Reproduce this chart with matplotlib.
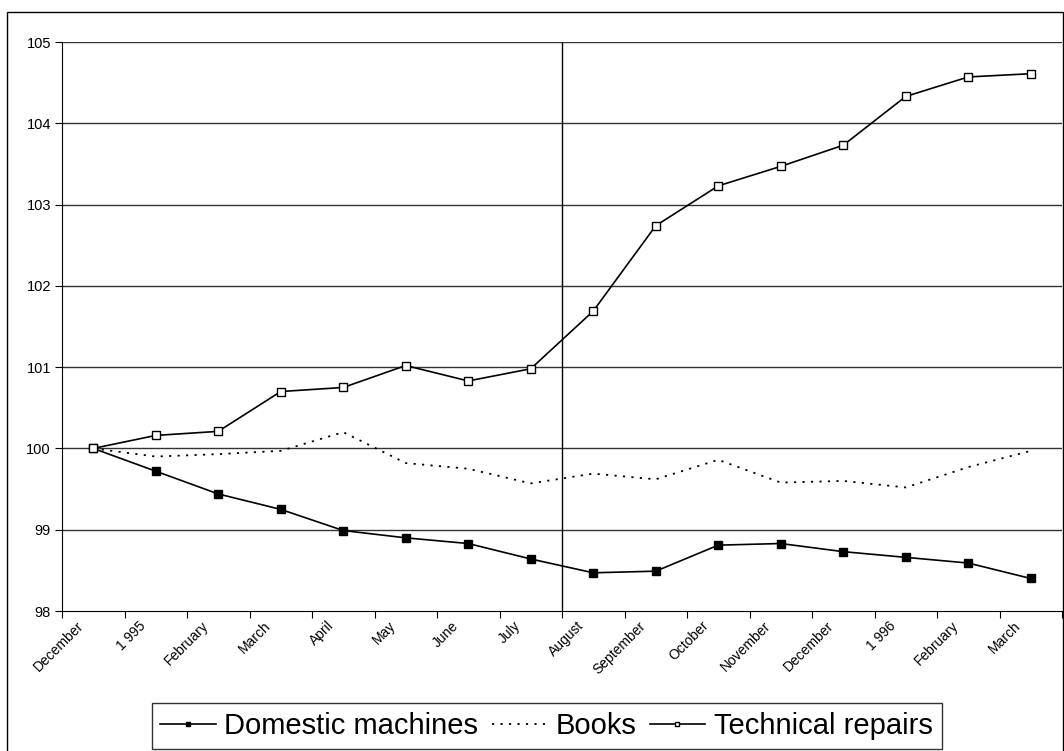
import matplotlib
matplotlib.use("Agg")
import matplotlib.pyplot as plt
from matplotlib.patches import Rectangle
from matplotlib.transforms import ScaledTranslation
import numpy as np

plt.rcParams['font.family'] = ['Liberation Sans', 'DejaVu Sans']

# categories (Dec 1994 .. Mar 1996)
months = ["December", "1 995", "February", "March", "April", "May", "June", "July",
          "August", "September", "October", "November", "December", "1 996",
          "February", "March"]

domestic = [100.0, 99.72, 99.44, 99.25, 98.99, 98.90, 98.83, 98.64,
            98.47, 98.49, 98.81, 98.83, 98.73, 98.66, 98.59, 98.40]
books = [100.0, 99.90, 99.93, 99.97, 100.20, 99.82, 99.75, 99.57,
         99.69, 99.62, 99.86, 99.58, 99.60, 99.52, 99.77, 99.97]
repairs = [100.0, 100.16, 100.21, 100.70, 100.75, 101.02, 100.83, 100.98,
           101.69, 102.74, 103.23, 103.47, 103.73, 104.33, 104.57, 104.61]

yticks = [98, 99, 100, 101, 102, 103, 104, 105]

fig = plt.figure(figsize=(10.64, 7.51), dpi=100)
ax = fig.add_axes([62/1064, 1-611/751, 1000/1064, 569/751])

x = np.arange(len(months))

for yv in yticks[1:]:
    ax.axhline(yv, color='#333333', lw=1, zorder=1)

ax.axvline(7.5, color='black', lw=1, zorder=2)

l1, = ax.plot(x, domestic, color='black', lw=1.2, marker='s', ms=6,
              mfc='black', mec='black', label='Domestic machines', zorder=3)
l2, = ax.plot(x, books, color='black', lw=1.3, ls=(0, (1.2, 3.5)),
              label='Books', zorder=3)
l3, = ax.plot(x, repairs, color='black', lw=1.2, marker='s', ms=5.5,
              mfc='white', mec='black', mew=1, label='Technical repairs', zorder=3)

ax.set_xlim(-0.5, 15.5)
ax.set_ylim(98, 105)
ax.set_yticks(yticks)
ax.set_yticklabels([str(v) for v in yticks], fontsize=10.5)

# category ticks between points, labels at centers
ax.set_xticks(np.arange(-0.5, 16, 1))
ax.set_xticklabels([])
ax.set_xticks(x, minor=True)
ax.set_xticklabels(months, minor=True, fontsize=10, rotation=45,
                   ha='right', va='center', rotation_mode='anchor')
ax.tick_params(axis='x', which='minor', length=0, pad=9)
ax.tick_params(axis='x', which='major', length=5, direction='out', color='black')
ax.tick_params(axis='y', length=5, direction='out', color='black', pad=3)
offset = ScaledTranslation(-12/100, 0, fig.dpi_scale_trans)
for lab in ax.get_xticklabels(minor=True):
    lab.set_transform(lab.get_transform() + offset)

for s in ['top', 'right']:
    ax.spines[s].set_visible(False)
ax.spines['left'].set_color('black')
ax.spines['bottom'].set_color('black')

leg = fig.legend(handles=[l1, l2, l3], loc='upper center',
                 bbox_to_anchor=(546.5/1064, 1-703/751), ncol=3,
                 fontsize=21, frameon=True, fancybox=False, edgecolor='black',
                 handlelength=1.9, handletextpad=0.3, columnspacing=0.45,
                 borderpad=0.3, borderaxespad=0, markerscale=0.6)
leg.get_frame().set_linewidth(1)

fig.patches.append(Rectangle((7/1064, -0.05), 1056/1064, 1-12/751+0.05,
                             transform=fig.transFigure, fill=False,
                             edgecolor='black', lw=1))

fig.savefig("out.png", dpi=100)
